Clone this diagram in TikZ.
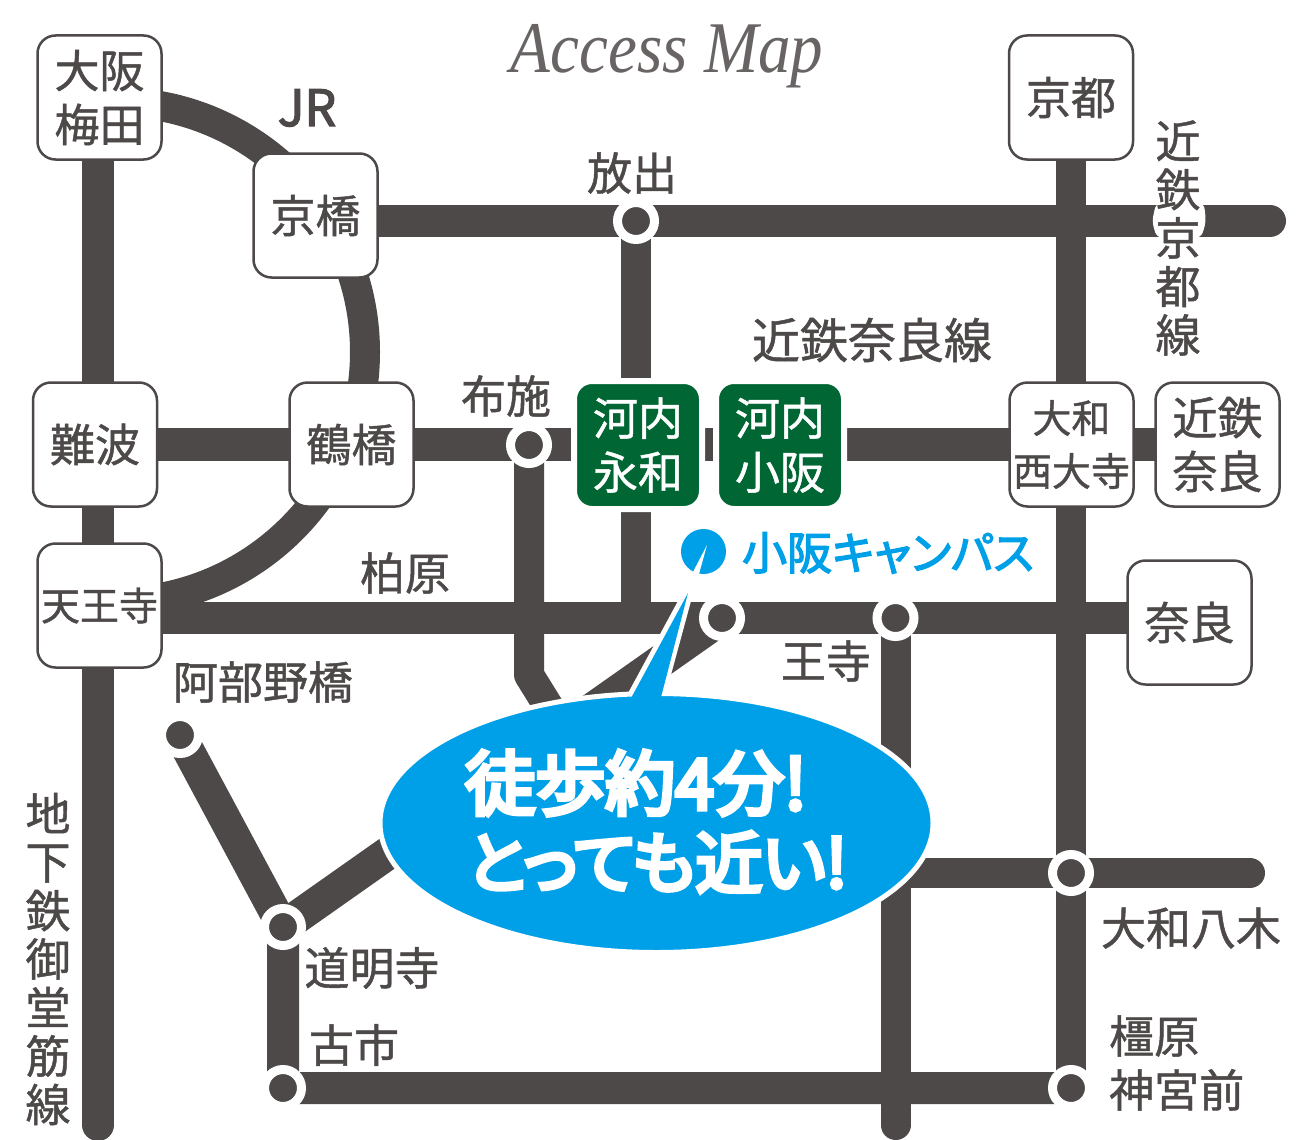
\documentclass[tikz,border=0pt]{standalone}
\usepackage{fontspec}
\usetikzlibrary{backgrounds,shapes.geometric}
\newfontfamily\jp[FakeBold=1.0]{Noto Sans CJK JP}
\newfontfamily\jpm[FakeBold=3,RawFeature=+palt]{Noto Sans CJK JP}
\newfontfamily\jpb[FakeBold=6.5]{Noto Sans CJK JP}
\newfontfamily\jpbp[FakeBold=6.5,RawFeature=+palt]{Noto Sans CJK JP}
\newfontfamily\jpc[FakeBold=2.5]{Noto Sans CJK JP}
\newfontfamily\ttl{Liberation Serif Italic}
\definecolor{ink}{HTML}{4D4948}
\definecolor{sky}{HTML}{00A0E9}
\definecolor{pine}{HTML}{006633}
\newcommand{\fs}[2]{\fontsize{#1}{#2}\selectfont}
\tikzset{
  x=1pt,y=-1pt,
  track/.style={draw=ink,line width=32pt},
  roundtrack/.style={track,line cap=round},
  sta/.style={draw=ink,fill=white,line width=2.5pt,rounded corners=18pt,minimum width=124pt,minimum height=124pt,inner sep=0pt,align=center,text=ink,font=\jp\fs{45}{54}},
  stasmall/.style={sta,font=\jp\fs{39}{53}},
  greensta/.style={draw=white,fill=pine,line width=6pt,rounded corners=18pt,minimum width=128pt,minimum height=128pt,inner sep=0pt,align=center,text=white,font=\jp\fs{45}{54}},
  ring/.style={circle,fill=ink,draw=white,line width=9pt,minimum size=37pt,inner sep=0pt},
  lbl/.style={text=ink,font=\jp\fs{45}{54},inner sep=0pt,align=center},
  vlbl/.style={text=ink,font=\jp\fs{45}{48.5},inner sep=0pt,align=center},
}
\begin{document}
\begin{tikzpicture}
\useasboundingbox (0,0) rectangle (1314,1140);
% stations
\node[sta] (umeda) at (99.5,97.5) {大阪\\梅田};
\node[sta] (kyobashi) at (315.5,215.5) {京橋};
\node[sta] (kyoto) at (1071,97.5) {京都};
\node[sta] (namba) at (95,444.5) {難波};
\node[sta] (tsuruhashi) at (351.5,444.5) {鶴橋};
\node[stasmall] (saidaiji) at (1071.5,444.5) {大和\\西大寺};
\node[sta] (knara) at (1217.5,444.5) {近鉄\\奈良};
\node[stasmall] (tennoji) at (99.5,605.5) {天王寺};
\node[sta] (nara) at (1189.5,622.5) {奈良};
\node[greensta] (eiwa) at (638,445) {河内\\永和};
\node[greensta] (kosaka) at (780,445) {河内\\小阪};
% junctions
\node[ring] (hanaten) at (636,221) {};
\node[ring] (fuse) at (529,445) {};
\node[ring] (shuntokumichi) at (722,618) {};
\node[ring] (oji) at (895.5,618) {};
\node[ring] (yagi) at (1071,873) {};
\node[ring] (domyoji) at (283,927) {};
\node[ring] (furuichi) at (283,1088) {};
\node[ring] (kashihara) at (1071,1088) {};
\node[ring] (abeno) at (180,735) {};
% free ends
\coordinate (eastK) at (1270,221);
\coordinate (westK) at (315.5,221);
\coordinate (westN) at (99.5,618);
\coordinate (eastN) at (1189.5,618);
\coordinate (eastY) at (1250,873);
\coordinate (southM) at (98,1125);
\coordinate (northM) at (98,97.5);
\coordinate (southO) at (895.5,1125);
\coordinate (bendF) at (529,675);
\coordinate (endF) at (560,725);
\coordinate (archA) at (115,102);
\coordinate (archB) at (365,352);
\coordinate (archC) at (115,602);
% tracks
\begin{pgfonlayer}{background}
\fill[white] (0,0) rectangle (1314,1140);
\draw[roundtrack] (northM) -- (southM);
\draw[track,line width=30pt] (kyoto.center) -- (kashihara.center);
\draw[roundtrack] (westK) -- (eastK);
\draw[track,line width=30pt] (hanaten.center) -- (636,618);
\draw[track,line width=33pt] (namba.center) -- (knara.center);
\draw[track] (westN) -- (eastN);
\draw[track,line width=30pt,line join=round] (fuse.center) -- (bendF) -- (endF);
\draw[track,line width=33pt] (shuntokumichi.center) -- (domyoji.center);
\draw[track] (abeno.center) -- (domyoji.center) -- (furuichi.center) -- (kashihara.center);
\draw[roundtrack,line width=30pt] (oji.center) -- (southO);
\draw[roundtrack,line width=30pt] (896,873) -- (eastY);
\draw[track,line width=30pt] (archA) .. controls (253,102) and (365,214) .. (archB) .. controls (365,490) and (253,602) .. (archC);
\end{pgfonlayer}
% labels
\fill[white,rounded corners=6pt] (1156,203) -- (1204,203) -- (1206,222) -- (1201,238) -- (1157,238) -- (1152,222) -- cycle;
\node[text=ink!85,inner sep=0pt,font=\ttl\fs{65}{70},yscale=1.12] (title) at (667,56) {Access Map};
\node[lbl,font=\jpc\fs{50}{54}] (jr) at (307,108) {JR};
\node[lbl] (lhanaten) at (632,173) {放出};
\node[lbl,font=\jp\fs{48}{54}] (lnara) at (872,340) {近鉄奈良線};
\node[lbl] (lfuse) at (506,396) {布施};
\node[lbl] (lkashiwara) at (405,573) {柏原};
\node[lbl] (labeno) at (263,682) {阿部野橋};
\node[lbl] (loji) at (826,661) {王寺};
\node[lbl] (ldomyoji) at (372,968) {道明寺};
\node[lbl] (lfuruichi) at (354,1045) {古市};
\node[lbl] (lyagi) at (1191,928) {大和八木};
\node[lbl,align=left,anchor=west] (lkashihara) at (1109,1063) {橿原\\[0pt]神宮前};
\node[vlbl] (lmido) at (48,959) {地\\下\\鉄\\御\\堂\\筋\\線};
\node[vlbl] (lkyoto) at (1178,238) {近\\鉄\\京\\都\\線};
% campus
\node[circle,fill=sky,minimum size=45pt,inner sep=0pt] (pin) at (703.5,551.5) {};
\fill[white] (707,545) -- (693,572) -- (699,574) -- cycle;
\node[text=sky,inner sep=0pt,font=\jpm\fs{45}{54}] (campus) at (888,553) {小阪キャンパス};
% callout
\path[fill=sky,draw=white,line width=10pt,line join=miter] (630,700) -- (688,593) -- (659,700) -- cycle;
\node[ellipse,fill=sky,draw=white,line width=5pt,minimum width=553pt,minimum height=259pt,inner sep=0pt] (bubble) at (656.5,823) {};
\fill[sky] (630,700) -- (688,593) -- (659,705) -- cycle;
\node[text=white,inner sep=0pt,font=\jpb\fs{70}{78}] (t1) at (636,783) {徒歩約4分!};
\node[text=white,inner sep=0pt,font=\jpbp\fs{67}{78}] (t2) at (657,862) {とっても近い!};
\end{tikzpicture}
\end{document}
